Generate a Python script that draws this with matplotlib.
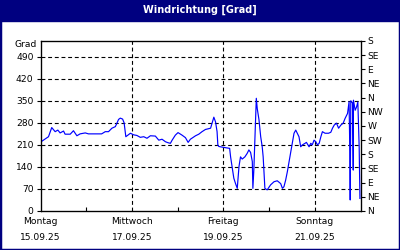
import matplotlib
matplotlib.use("Agg")
import matplotlib.pyplot as plt
from matplotlib.patches import Rectangle
import numpy as np

# hours since Montag 15.09.25 00:00 and wind direction in degrees
hours = [0.3, 4.2, 5.9, 7.7, 9.1, 10.3, 12.1, 12.9, 15.6, 17.3, 19.1, 20.8,
         23.5, 25.2, 28.9, 32.1, 34.0, 35.7, 37.5, 39.3, 41.0, 41.9, 43.1,
         43.9, 44.8, 47.2, 48.9, 50.6, 52.4, 54.2, 55.9, 57.7, 60.3, 62.1,
         63.8, 65.6, 66.9, 68.2, 69.1, 70.8, 72.2, 74.3, 76.1, 77.5, 78.7,
         81.4, 83.1, 84.8, 86.6, 89.3, 90.1, 91.0, 91.9, 92.7, 93.1, 93.6,
         96.2, 99.3, 99.8, 100.6, 101.5, 102.4, 103.3, 104.2, 105.0, 105.9,
         107.3, 108.5, 109.4, 110.3, 111.2, 111.5, 112.0, 112.6, 113.3,
         113.8, 114.7, 115.6, 116.4, 116.9, 117.8, 119.0, 120.8, 122.6,
         124.3, 126.1, 127.0, 127.8, 128.7, 129.6, 130.5, 131.4, 132.2,
         133.1, 134.0, 134.8, 135.7, 136.6, 137.5, 138.9, 139.6, 141.0,
         141.9, 142.7, 143.6, 144.5, 145.4, 146.3, 147.2, 148.0, 149.4,
         151.2, 152.4, 153.3, 154.2, 155.4, 156.5, 157.7, 158.9, 159.9,
         161.2, 162.0, 162.4, 162.6, 162.9, 163.8, 164.2, 164.3, 165.2,
         165.9, 166.6, 167.3, 167.7]
grad = [220, 236, 265, 252, 257, 248, 254, 244, 244, 255, 239, 245,
        248, 245, 245, 245, 252, 252, 263, 268, 291, 295, 292,
        280, 236, 247, 242, 240, 234, 236, 231, 239, 238, 225,
        228, 220, 217, 215, 225, 241, 249, 241, 233, 218, 228,
        239, 244, 252, 259, 263, 279, 298, 283, 252, 210, 205,
        202, 199, 172, 141, 104, 87, 72, 141, 172, 165,
        172, 183, 194, 186, 157, 72, 130, 236, 358,
        325, 290, 236, 204, 172, 72, 67, 83, 93,
        96, 87, 72, 77, 98, 125, 157, 188, 215,
        247, 257, 247, 236, 204, 210, 215, 218, 204,
        215, 210, 225, 220, 210, 215, 236, 252, 247,
        247, 250, 263, 273, 279, 263, 273, 279, 294,
        310, 347, 188, 35, 350, 343, 130, 352, 320,
        330, 346, 204, 40]

grad_ticks = [0, 70, 140, 210, 280, 350, 420, 490]
dir_ticks = [0, 45, 90, 135, 180, 225, 270, 315, 360, 405, 450, 495, 540]
dir_labels = ["N", "NE", "E", "SE", "S", "SW", "W", "NW",
              "N", "NE", "E", "SE", "S"]
day_ticks = [0, 2, 4, 6]
day_labels = ["Montag\n15.09.25", "Mittwoch\n17.09.25",
              "Freitag\n19.09.25", "Sonntag\n21.09.25"]

navy = "#000080"
fs = 6.6

fig = plt.figure(figsize=(4, 2.5), dpi=100)
fig.patch.set_facecolor("white")
fig.patches.append(Rectangle((0, 0), 1, 1, transform=fig.transFigure,
                             fill=False, edgecolor=navy, linewidth=2.5))
fig.patches.append(Rectangle((0, 1 - 21 / 250), 1, 21 / 250,
                             transform=fig.transFigure, color=navy))
fig.text(0.5, 1 - 9.5 / 250, "Windrichtung [Grad]", color="white",
         fontsize=7, fontweight="bold", ha="center", va="center")

ax = fig.add_axes([40.5 / 400, 1 - 211 / 250, 320 / 400, 170 / 250])
x = np.array(hours) / 24.0
ax.plot(x, grad, color="#0000ff", linewidth=0.85, zorder=3)

ax.set_xlim(0, 7)
ax.set_ylim(0, 540)
ax.set_yticks(grad_ticks)
ax.set_yticklabels([str(v) for v in grad_ticks], fontsize=fs)
ax.set_xticks(day_ticks)
ax.set_xticklabels(day_labels, fontsize=fs, linespacing=2.0)
ax.set_xticks([1, 3, 5], minor=True)
ax.tick_params(axis="y", length=3, width=0.8, pad=2)
ax.tick_params(axis="x", which="major", length=0, pad=4)
ax.tick_params(axis="x", which="minor", direction="in", length=3, width=0.8)

for v in grad_ticks[1:]:
    ax.axhline(v, color="black", linestyle=(0, (3.5, 2.5)), linewidth=0.8, zorder=1)
for d in day_ticks[1:]:
    ax.axvline(d, color="black", linestyle=(0, (3.5, 2.5)), linewidth=0.8, zorder=1)
for sp in ax.spines.values():
    sp.set_linewidth(0.9)

ax2 = ax.twinx()
ax2.set_ylim(0, 540)
ax2.set_yticks(dir_ticks)
ax2.set_yticklabels(dir_labels, fontsize=fs)
ax2.tick_params(axis="y", length=3, width=0.8, pad=2)

ax.text(-0.01, 1 - 4 / 170, "Grad", transform=ax.transAxes, fontsize=fs,
        ha="right", va="center")

fig.savefig("out.png", dpi=100)
